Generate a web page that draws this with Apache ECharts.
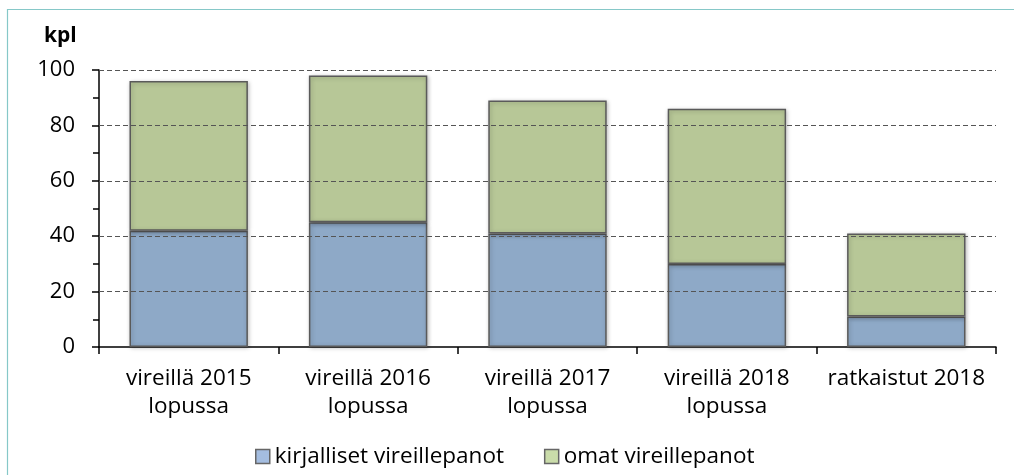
<!DOCTYPE html>
<html>
<head>
<meta charset="utf-8">
<script src="https://cdn.jsdelivr.net/npm/echarts@6/dist/echarts.min.js"></script>
<style>
  html, body { margin: 0; padding: 0; background: #fff; }
  #chart { width: 1014px; height: 475px; }
</style>
</head>
<body>
<div id="chart"></div>
<script>
const categories = [
  'vireillä 2015\nlopussa',
  'vireillä 2016\nlopussa',
  'vireillä 2017\nlopussa',
  'vireillä 2018\nlopussa',
  'ratkaistut 2018'
];
const kirjalliset = [42, 45, 41, 30, 11];
const omat = [54, 53, 48, 56, 30];
const yTicks = { min: 0, max: 100, interval: 20 };
const gridValues = [20, 40, 60, 80, 100];

const font = '"Open Sans", "Noto Sans", sans-serif';
const chart = echarts.init(document.getElementById('chart'));

const barShadow = {
  borderColor: '#5a5a5a',
  borderWidth: 1.5,
  shadowColor: 'rgba(0,0,0,0.25)',
  shadowBlur: 4,
  shadowOffsetX: 1,
  shadowOffsetY: 1
};

chart.setOption({
  animation: false,
  textStyle: { fontFamily: font },
  graphic: [{
    type: 'rect',
    shape: { x: 7.5, y: 9.5, width: 1020, height: 480 },
    style: { fill: 'none', stroke: '#86c8c8', lineWidth: 1.2 },
    silent: true
  }, {
    type: 'text',
    left: 44,
    top: 26,
    style: { text: 'kpl', font: 'bold 21px ' + font, fill: '#000' }
  }],
  legend: {
    top: 440,
    left: 250,
    itemGap: 40,
    itemWidth: 14,
    itemHeight: 14,
    icon: 'rect',
    itemStyle: { borderColor: '#666', borderWidth: 1.5, shadowBlur: 0, shadowColor: 'transparent' },
    textStyle: { fontSize: 22.5, color: '#000', fontFamily: font },
    data: [
      { name: 'kirjalliset vireillepanot', itemStyle: { color: '#a4bde0' } },
      { name: 'omat vireillepanot', itemStyle: { color: '#cadcaa' } }
    ]
  },
  grid: { left: 99, right: 18, top: 70, bottom: 128 },
  xAxis: {
    type: 'category',
    data: categories,
    axisLine: { lineStyle: { color: '#000', width: 1.5 } },
    axisTick: { show: true, length: 7, interval: 0, lineStyle: { color: '#000', width: 1.5 } },
    axisLabel: { fontSize: 22.5, color: '#000', lineHeight: 28, margin: 18, interval: 0 }
  },
  yAxis: {
    type: 'value',
    min: yTicks.min,
    max: yTicks.max,
    interval: yTicks.interval,
    axisLine: { show: true, lineStyle: { color: '#000', width: 1.5 } },
    axisTick: { show: true, length: 7, lineStyle: { color: '#000', width: 1.5 } },
    minorTick: { show: true, splitNumber: 2, length: 6, lineStyle: { color: '#000', width: 1.5 } },
    axisLabel: { fontSize: 22, color: '#000', margin: 24 },
    splitLine: { show: false }
  },
  series: [
    {
      name: 'kirjalliset vireillepanot',
      type: 'bar',
      stack: 'total',
      barWidth: '66%',
      data: kirjalliset,
      itemStyle: Object.assign({ color: '#8ea9c7' }, barShadow)
    },
    {
      name: 'omat vireillepanot',
      type: 'bar',
      stack: 'total',
      barWidth: '66%',
      data: omat,
      itemStyle: Object.assign({ color: '#b7c797' }, barShadow),
      markLine: {
        silent: true,
        symbol: 'none',
        z: 10,
        label: { show: false },
        lineStyle: { color: '#555', type: [5, 3], width: 1.2 },
        data: gridValues.map(v => ({ yAxis: v }))
      }
    }
  ]
});
</script>
</body>
</html>
